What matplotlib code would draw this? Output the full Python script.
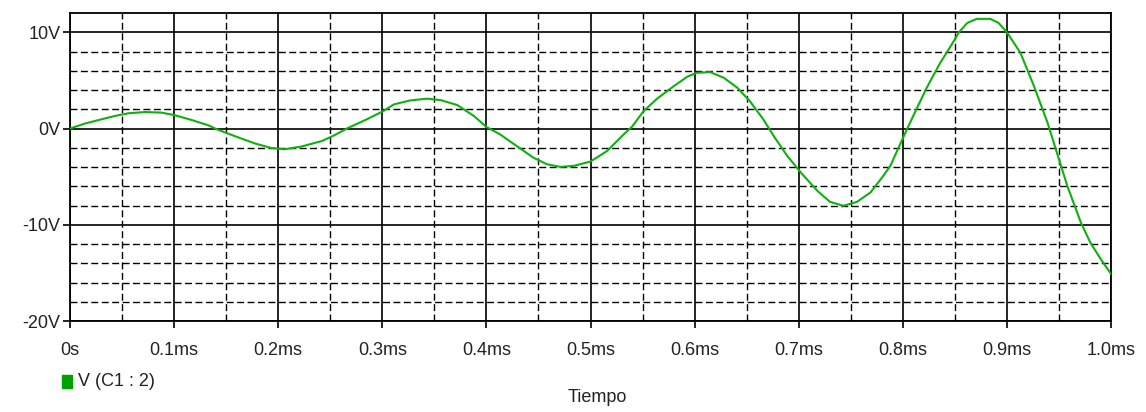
import matplotlib
matplotlib.use("Agg")
import matplotlib.pyplot as plt
from matplotlib.ticker import MultipleLocator, FixedLocator
from matplotlib.patches import Rectangle

plt.rcParams['font.family'] = ['Liberation Sans', 'DejaVu Sans']
plt.rcParams['lines.scale_dashes'] = False

# tiempo en ms, tension en V
t_ms = [0.000, 0.014, 0.030, 0.043, 0.056, 0.072, 0.088, 0.101, 0.117, 0.133,
        0.141, 0.158, 0.177, 0.193, 0.206, 0.222, 0.242, 0.254, 0.266, 0.285,
        0.301, 0.311, 0.327, 0.343, 0.356, 0.372, 0.388, 0.400, 0.413, 0.429,
        0.445, 0.458, 0.471, 0.484, 0.500, 0.516, 0.532, 0.540, 0.551, 0.564,
        0.580, 0.593, 0.602, 0.615, 0.628, 0.641, 0.653, 0.666, 0.676, 0.689,
        0.702, 0.718, 0.730, 0.743, 0.756, 0.769, 0.780, 0.788, 0.801, 0.810,
        0.823, 0.836, 0.846, 0.854, 0.862, 0.871, 0.884, 0.892, 0.900, 0.913,
        0.926, 0.939, 0.948, 0.958, 0.971, 0.980, 0.990, 1.000]
v_c1 = [0.00, 0.50, 0.95, 1.30, 1.58, 1.71, 1.65, 1.37, 0.88, 0.33,
        -0.08, -0.78, -1.53, -2.02, -2.16, -1.88, -1.30, -0.70, 0.00, 0.95,
        1.81, 2.50, 2.92, 3.10, 2.95, 2.44, 1.30, 0.16, -0.60, -1.81,
        -3.02, -3.71, -3.99, -3.88, -3.43, -2.33, -0.60, 0.20, 1.81, 3.10,
        4.40, 5.38, 5.79, 5.86, 5.27, 4.24, 2.85, 0.95, -0.78, -2.85,
        -4.57, -6.48, -7.62, -8.03, -7.62, -6.64, -5.10, -3.89, -0.78, 1.30,
        4.24, 6.83, 8.55, 10.00, 10.97, 11.39, 11.39, 10.97, 10.00, 7.86,
        4.40, 0.61, -2.50, -5.96, -9.75, -11.82, -13.55, -15.10]

x_ticks = [0.0, 0.1, 0.2, 0.3, 0.4, 0.5, 0.6, 0.7, 0.8, 0.9, 1.0]
x_labels = ['0s', '0.1ms', '0.2ms', '0.3ms', '0.4ms', '0.5ms', '0.6ms',
            '0.7ms', '0.8ms', '0.9ms', '1.0ms']
y_ticks = [-20, -10, 0, 10]
y_labels = ['-20V', '-10V', '0V', '10V']

verde = '#10B010'

fig = plt.figure(figsize=(11.46, 4.12), dpi=100)
ax = fig.add_axes([70/1146, 1 - 321/412, 1041/1146, 308/412])

ax.plot(t_ms, v_c1, color=verde, lw=1.5, zorder=3)

ax.set_xlim(0, 1.0)
ax.set_ylim(-20, 12)

ax.set_xticks(x_ticks)
ax.set_xticklabels(x_labels)
ax.set_yticks(y_ticks)
ax.set_yticklabels(y_labels)
ax.xaxis.set_minor_locator(MultipleLocator(0.05))
ax.yaxis.set_minor_locator(FixedLocator([-18, -16, -14, -12, -8, -6, -4, -2,
                                         2, 4, 6, 8]))

ax.tick_params(which='major', direction='out', length=5, width=1.2,
               labelsize=13, colors='black', labelcolor='#222222')
ax.tick_params(axis='x', which='major', pad=10)
ax.tick_params(axis='y', which='major', pad=2)
ax.tick_params(which='minor', length=0)

ax.grid(True, which='major', color='black', lw=1.2, ls='-', zorder=1)
ax.grid(True, which='minor', color='black', lw=1.0, ls=(0, (5, 2.5)), zorder=1)

for s in ax.spines.values():
    s.set_linewidth(1.3)
    s.set_color('black')

# leyenda estilo PSpice
fig.patches.append(Rectangle((62/1146, 1 - 388/412), 10/1146, 13/412,
                             transform=fig.transFigure, color='#00A000'))
fig.text(78/1146, 1 - 382/412, 'V (C1 : 2)', fontsize=13, color='#222222',
         va='center', ha='left')
fig.text(597/1146, 1 - 397/412, 'Tiempo', fontsize=13, color='#222222',
         va='center', ha='center')

fig.savefig('out.png', dpi=100)
